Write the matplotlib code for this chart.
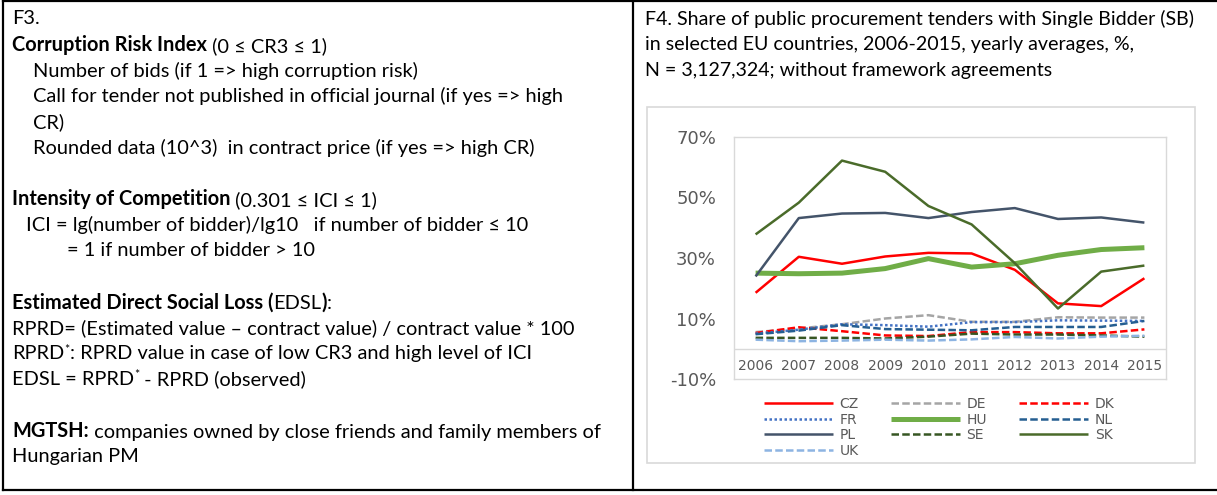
import matplotlib
matplotlib.use('Agg')
import matplotlib.pyplot as plt
from matplotlib.lines import Line2D
from matplotlib.ticker import FuncFormatter

W, H = 1217, 495
TXT_FONT = 'Lato'
GREY = '#595959'

years = [2006, 2007, 2008, 2009, 2010, 2011, 2012, 2013, 2014, 2015]
cz = [18.5, 30.4, 28.1, 30.5, 31.7, 31.5, 26.1, 15.0, 14.1, 23.3]
de = [5.5, 6.7, 8.1, 10.0, 11.1, 8.9, 8.9, 10.4, 10.3, 10.3]
dk = [5.2, 7.1, 5.8, 4.4, 4.2, 5.5, 5.5, 5.1, 5.1, 6.4]
fr = [5.0, 6.3, 8.1, 7.8, 7.3, 8.8, 8.8, 9.4, 9.3, 9.2]
hu = [25.0, 24.8, 25.0, 26.5, 29.8, 27.0, 28.1, 30.9, 32.8, 33.4]
nl = [4.8, 6.0, 7.8, 6.5, 6.3, 6.1, 7.2, 7.2, 7.2, 9.2]
pl = [23.9, 43.2, 44.7, 44.9, 43.2, 45.2, 46.5, 42.9, 43.4, 41.7]
se = [3.6, 3.6, 3.6, 3.4, 4.0, 5.0, 4.7, 4.7, 4.4, 4.0]
sk = [37.8, 48.3, 62.2, 58.5, 47.2, 41.1, 28.3, 13.3, 25.5, 27.5]
uk = [3.0, 2.5, 2.7, 3.0, 2.7, 3.1, 3.9, 3.4, 4.0, 4.3]
y_ticks = [-10, 10, 30, 50, 70]


def fx(x):
    return x / W


def fy(y):
    return 1 - y / H


fig = plt.figure(figsize=(W / 100, H / 100), dpi=100)
bg = fig.add_axes([0, 0, 1, 1])
bg.set_xlim(0, 1)
bg.set_ylim(0, 1)
bg.axis('off')
renderer = fig.canvas.get_renderer()


def fit_size(text, target_px, guess=14.0):
    # font size that makes `text` about target_px wide
    t = bg.text(0, 0, text, fontfamily=TXT_FONT, fontsize=guess)
    w = t.get_window_extent(renderer).width
    t.remove()
    return guess * target_px / w


# table borders
for (x0, y0, x1, y1) in [(3, 1, W, 1), (3, 490, W, 490), (3, 1, 3, 490), (633, 1, 633, 490)]:
    bg.add_line(Line2D([fx(x0), fx(x1)], [fy(y0), fy(y1)], color='black', lw=1.6))

# chart area box
bg.add_patch(plt.Rectangle((fx(647), fy(463)), fx(1195) - fx(647), fy(107) - fy(463),
                           fill=False, edgecolor='#d9d9d9', lw=1.2))


def rich(x, y, parts, size):
    # parts: (text, bold, superscript); pieces are chained left to right
    prev = None
    base = None
    for text, bold, sup in parts:
        kw = dict(fontfamily=TXT_FONT, fontsize=size * (0.62 if sup else 1),
                  fontweight='bold' if bold else 'normal', color='black')
        if prev is None:
            prev = bg.text(fx(x), fy(y), text, va='center', ha='left', **kw)
            base = prev
        elif sup:
            prev = bg.annotate(text, xy=(1, 0.45), xycoords=(prev, base),
                               va='bottom', ha='left', **kw)
        else:
            prev = bg.annotate(text, xy=(1, 0), xycoords=(prev, base),
                               va='bottom', ha='left', **kw)


step = 25.75
left_lines = [
    (12, [('F3.', False, False)]),
    (12, [('Corruption Risk Index', True, False), (' (0 ≤ CR3 ≤ 1)', False, False)]),
    (33, [('Number of bids (if 1 => high corruption risk)', False, False)]),
    (33, [('Call for tender not published in official journal (if yes => high', False, False)]),
    (33, [('CR)', False, False)]),
    (33, [('Rounded data (10^3)  in contract price (if yes => high CR)', False, False)]),
    (12, None),
    (12, [('Intensity of Competition', True, False), (' (0.301 ≤ ICI ≤ 1)', False, False)]),
    (26, [('ICI = lg(number of bidder)/lg10   if number of bidder ≤ 10', False, False)]),
    (67, [('= 1 if number of bidder > 10', False, False)]),
    (12, None),
    (12, [('Estimated Direct Social Loss (', True, False), ('EDSL', False, False),
          (')', True, False), (':', False, False)]),
    (12, [('RPRD= (Estimated value – contract value) / contract value * 100', False, False)]),
    (12, [('RPRD', False, False), ('*', False, True),
          (': RPRD value in case of low CR3 and high level of ICI', False, False)]),
    (12, [('EDSL = RPRD', False, False), ('*', False, True), (' - RPRD (observed)', False, False)]),
    (12, None),
    (12, [('MGTSH:', True, False), (' companies owned by close friends and family members of', False, False)]),
    (12, [('Hungarian PM', False, False)]),
]
left_size = fit_size('RPRD= (Estimated value – contract value) / contract value * 100', 566)
for i, (x, parts) in enumerate(left_lines):
    if parts:
        rich(x, 19 + i * step, parts, left_size)

title_lines = ['F4. Share of public procurement tenders with Single Bidder (SB)',
               'in selected EU countries, 2006-2015, yearly averages, %,',
               'N = 3,127,324; without framework agreements']
title_size = fit_size(title_lines[0], 550)
for i, t in enumerate(title_lines):
    rich(645, 19 + i * step, [(t, False, False)], title_size)

# chart
ax = fig.add_axes([fx(734), fy(379), fx(1166) - fx(734), fy(137) - fy(379)])
series = [
    ('CZ', cz, '#ff0000', 1.8, '-'),
    ('DE', de, '#a5a5a5', 1.8, (0, (3, 1.3))),
    ('DK', dk, '#ff0000', 1.8, (0, (3, 1.3))),
    ('FR', fr, '#4472c4', 1.8, (0, (1, 1))),
    ('HU', hu, '#70ad47', 3.6, '-'),
    ('NL', nl, '#255e91', 1.8, (0, (3, 1.3))),
    ('PL', pl, '#44546a', 1.8, '-'),
    ('SE', se, '#375623', 1.8, (0, (3, 1.3))),
    ('SK', sk, '#4a6b2a', 1.8, '-'),
    ('UK', uk, '#8db4e2', 1.8, (0, (3, 1.3))),
]
handles = {}
for name, vals, col, lw, ls in series:
    h, = ax.plot(years, vals, color=col, lw=lw, linestyle=ls, label=name,
                 solid_capstyle='butt', dash_capstyle='butt')
    handles[name] = h

ax.axhline(0, color='#d9d9d9', lw=1)
ax.set_xlim(2005.5, 2015.5)
ax.set_ylim(-10, 70)
ax.set_yticks(y_ticks)
ax.yaxis.set_major_formatter(FuncFormatter(lambda v, p: f'{v:.0f}%'))
ax.tick_params(axis='y', length=0, pad=13, labelsize=13, labelcolor=GREY)
ax.set_xticks([])
for yr in years:
    ax.text(yr, -5.6, str(yr), ha='center', va='center', fontsize=10, color=GREY)
for s in ax.spines.values():
    s.set_color('#d9d9d9')
    s.set_linewidth(1)

order = ['CZ', 'FR', 'PL', 'UK', 'DE', 'HU', 'SE', 'DK', 'NL', 'SK']
leg = fig.legend([handles[n] for n in order], order, ncol=3, loc='upper left',
                 bbox_to_anchor=(fx(764), fy(397)), frameon=False, fontsize=10,
                 handlelength=5.0, handletextpad=0.45, columnspacing=2.3,
                 labelspacing=0.12, borderpad=0, borderaxespad=0)
for t in leg.get_texts():
    t.set_color(GREY)

fig.savefig('out.png', dpi=100, facecolor='white')
